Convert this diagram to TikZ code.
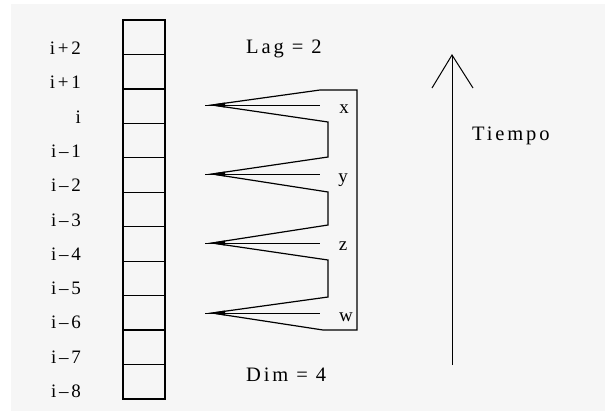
\documentclass[tikz,border=0pt]{standalone}
\usepackage{fontspec}
\setmainfont{Liberation Serif}[LetterSpace=14]
\definecolor{bg}{HTML}{F6F6F6}
\begin{document}
\begin{tikzpicture}[x=1pt,y=-1pt,
  lbl/.style={font=\fontsize{19}{22}\selectfont, inner sep=0pt},
  big/.style={font=\fontsize{20.5}{23}\selectfont, inner sep=0pt},
  ln/.style={line width=1.2pt, black},
  thin/.style={line width=1pt, black}]
\useasboundingbox (0,0) rectangle (605,413);
\fill[bg] (11,4) rectangle (605,411);
% column of cells
\foreach \k in {0,...,10} {
  \draw[ln] (123,{20+34.45*\k}) rectangle (165,{20+34.45*(\k+1)});
}
\draw[line width=1.8pt] (123,20) -- (123,399);
% row labels
\foreach \t [count=\k from 0] in {i+2,i+1,i,i–1,i–2,i–3,i–4,i–5,i–6,i–7,i–8} {
  \node[lbl, anchor=base east] (r\k) at (81,{54.5+34.3*\k}) {\t};
}
% fan tips
\coordinate (tx) at (209,105);
\coordinate (ty) at (209,174);
\coordinate (tz) at (209,243);
\coordinate (tw) at (209,313);
% zigzag ends
\coordinate (tr) at (357,90);
\coordinate (xu) at (320,90);
\coordinate (xl) at (328,122);
\coordinate (yu) at (328,157);
\coordinate (yl) at (328,192);
\coordinate (zu) at (328,225);
\coordinate (zl) at (328,260);
\coordinate (wu) at (328,297);
\coordinate (wl) at (323,330);
\coordinate (br) at (357,330);
\draw[ln, line join=miter] (tr) -- (xu) -- ([xshift=3pt]tx) -- (xl) -- (yu) -- ([xshift=3pt]ty) -- (yl) -- (zu)
  -- ([xshift=3pt]tz) -- (zl) -- (wu) -- ([xshift=3pt]tw) -- (wl) -- (br) -- cycle;
\foreach \p in {tx,ty,tz,tw} {
  \draw[thin] ([xshift=-4pt]\p) -- ([xshift=111pt]\p);
  \fill ([xshift=1pt]\p) -- ([xshift=16pt,yshift=-2.5pt]\p) -- ([xshift=16pt,yshift=2.5pt]\p) -- cycle;
}
% labels x y z w
\node[lbl, anchor=base] (lx) at (344,113) {x};
\node[lbl, anchor=base] (ly) at (343,182) {y};
\node[lbl, anchor=base] (lz) at (343,250) {z};
\node[lbl, anchor=base] (lw) at (346,321) {w};
% texts
\node[big, anchor=base west] (lag) at (246,53) {Lag = 2};
\node[big, anchor=base west] (dim) at (246,381) {Dim = 4};
% time arrow
\coordinate (ab) at (452,365);
\coordinate (at) at (452,55);
\coordinate (al) at (432,88);
\coordinate (ar) at (473,88);
\draw[thin] (ab) -- (at);
\draw[thin] (al) -- (at) -- (ar);
\node[big, anchor=base west] (tiempo) at (472,140) {Tiempo};
\end{tikzpicture}
\end{document}
